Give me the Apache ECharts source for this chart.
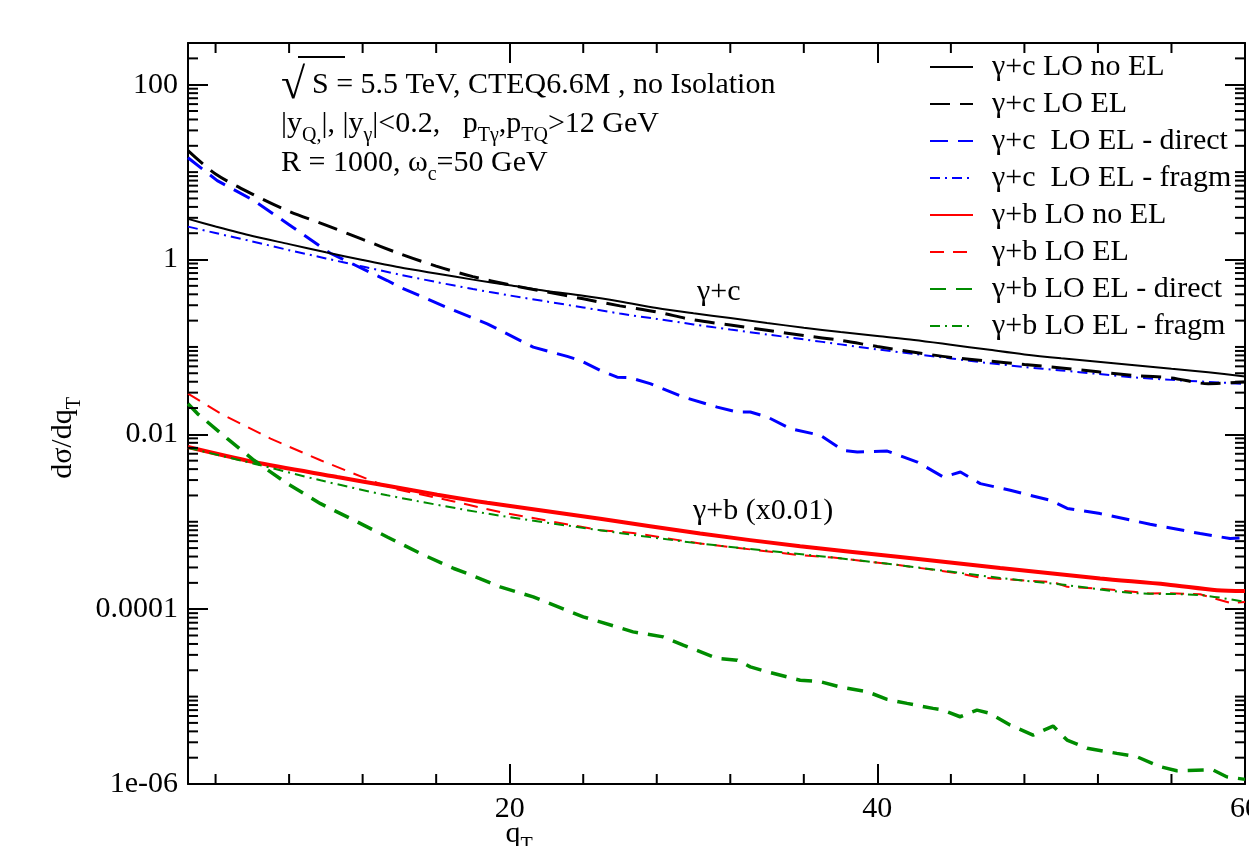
<!DOCTYPE html>
<html><head><meta charset="utf-8">
<script src="https://cdn.jsdelivr.net/npm/echarts@6/dist/echarts.min.js"></script>
<style>html,body{margin:0;padding:0;background:#fff}#c{width:1249px;height:846px}</style>
</head><body><div id="c"></div><script>
// ---------------- data ----------------
const X_MIN = 2.5, X_MAX = 60;
const Y_MIN = 1e-6, Y_MAX = 300;
const xTickValues = [20, 40, 60];
const xTickLabels = ['20', '40', '60'];
const xMinorTicks = [4, 8, 12, 16, 24, 28, 32, 36, 44, 48, 52, 56];
const yTickValues = [1e-6, 1e-4, 1e-2, 1, 100];
const yTickLabels = ['1e-06', '0.0001', '0.01', '1', '100'];
const yMinorMantissas = [2, 3, 4, 5, 6, 7, 8, 9];
const yMinorDecades = [-6, -5, -4, -3, -2, -1, 0, 1, 2];
const yOddDecades = [-5, -3, -1, 1];

const seriesNames = ['γ+c LO no EL', 'γ+c LO EL', 'γ+c  LO EL - direct', 'γ+c  LO EL - fragm',
  'γ+b LO no EL', 'γ+b LO EL', 'γ+b LO EL - direct', 'γ+b LO EL - fragm'];

const cNoEL = [[2.5,2.92],[4,2.39],[6,1.86],[8,1.50],[10,1.21],[12,0.989],[14,0.817],[16,0.692],[18,0.589],[20,0.507],[22,0.437],[24,0.385],[26,0.331],[28,0.279],[30,0.243],[32,0.214],[34,0.188],[36,0.166],[38,0.148],[40,0.133],[42,0.120],[44,0.106],[46,0.0933],[48,0.0822],[50,0.0741],[52,0.0676],[54,0.0617],[56,0.0562],[58,0.0513],[60,0.0460]];
const cEL = [[2.5,17.6],[4,9.5],[6,5.6],[8,3.55],[10,2.48],[12,1.70],[14,1.17],[16,0.841],[18,0.638],[20,0.513],[22,0.427],[24,0.355],[26,0.295],[28,0.251],[30,0.204],[32,0.178],[34,0.155],[36,0.135],[38,0.119],[40,0.101],[42,0.0871],[44,0.0759],[46,0.0692],[48,0.0631],[50,0.0575],[52,0.0519],[54,0.0471],[56,0.0442],[58,0.038],[60,0.0398]];
const cDirect = [[2.5,14.6],[4.09,8.0],[6.09,4.72],[8,2.5],[10.24,1.18],[13.34,0.575],[14.04,0.482],[16.76,0.273],[18.78,0.184],[21.28,0.0995],[23.13,0.0779],[23.84,0.0701],[24.92,0.0539],[25.85,0.0451],[26.56,0.0444],[27.64,0.038],[29.44,0.0267],[31.29,0.0205],[32.38,0.018],[33.09,0.018],[34.02,0.0158],[35.27,0.0116],[36.9,0.00975],[38.15,0.00656],[38.91,0.00628],[40.54,0.00644],[42.18,0.00482],[43.59,0.00325],[44.52,0.00371],[45.6,0.00273],[47.23,0.00229],[49.41,0.00176],[50.33,0.00142],[52.12,0.00124],[54.84,0.000936],[57.56,0.000733],[59.19,0.000643],[60,0.000659]];
const cFragm = [[2.5,2.38],[4,2.01],[6,1.61],[8,1.28],[10,1.03],[12,0.832],[14,0.674],[16,0.553],[18,0.46],[20,0.388],[22,0.331],[24,0.283],[26,0.241],[28,0.209],[30,0.181],[32,0.158],[34,0.139],[36,0.122],[38,0.107],[40,0.0936],[42,0.0832],[44,0.0739],[46,0.0656],[48,0.059],[50,0.0538],[52,0.0491],[54,0.0448],[56,0.042],[58,0.0398],[60,0.0378]];
const bNoEL = [[2.5,0.00716],[6.09,0.00482],[10.62,0.00325],[13.34,0.00258],[16.06,0.00204],[18.78,0.00165],[24.92,0.00108],[30.36,0.000733],[35.8,0.000525],[41.24,0.000396],[46.68,0.000295],[52.12,0.000225],[55.75,0.000192],[58.47,0.000165],[60,0.000161]];
const bEL = [[2.5,0.0292],[4.27,0.0173],[6.99,0.00893],[9.71,0.00505],[12.43,0.00298],[13.7,0.00239],[16.96,0.00171],[19.48,0.00129],[24.92,0.0008],[26.71,0.000745],[30.36,0.000564],[35.8,0.000414],[37.6,0.00039],[41.24,0.000318],[44.5,0.000256],[45.6,0.00023],[48.47,0.00021],[49.56,0.000205],[50.33,0.00018],[52.12,0.000172],[53.91,0.000158],[54.84,0.000151],[55.76,0.000153],[57.56,0.000148],[59.19,0.000118],[60,0.000121]];
const bDirect = [[2.5,0.0224],[3.01,0.0173],[4.64,0.00893],[6.09,0.00505],[7.9,0.00273],[9.71,0.00161],[11.53,0.00104],[13.34,0.00067],[15.15,0.000433],[16.96,0.000292],[17.69,0.000256],[19.48,0.00018],[21.28,0.000138],[24.0,8.17e-5],[24.92,7.16e-5],[26.71,5.5e-5],[28.35,4.82e-5],[29.44,3.88e-5],[31.29,2.74e-5],[32.38,2.61e-5],[33.09,2.19e-5],[34.02,1.92e-5],[35.8,1.54e-5],[36.9,1.48e-5],[37.98,1.29e-5],[39.44,1.14e-5],[40.53,9.29e-6],[41.62,8.36e-6],[43.03,7.33e-6],[43.58,7.01e-6],[44.5,5.88e-6],[45.42,7.01e-6],[46.13,6.43e-6],[47.22,4.72e-6],[48.47,3.63e-6],[49.56,4.6e-6],[50.32,3.18e-6],[51.41,2.56e-6],[53.03,2.24e-6],[54.12,2.05e-6],[55.37,1.58e-6],[56.29,1.42e-6],[58.25,1.45e-6],[59.0,1.21e-6],[60,1.13e-6]];
const bFragm = [[2.5,0.00701],[6.09,0.00462],[9.71,0.00298],[13.34,0.00201],[18.78,0.00124],[24.92,0.0008],[30.36,0.000564],[36.9,0.000404],[41.24,0.000318],[46.68,0.000228],[50.33,0.000188],[53.91,0.000153],[57.56,0.000145],[60,0.000121]];

// ---------------- chart ----------------
const FONT = '"Liberation Serif", "DejaVu Serif", "Times New Roman", serif';
const FS = 30;
const BLUE = '#0000ff', RED = '#ff0000', GREEN = '#008c00';

const tickData = [];
xMinorTicks.forEach(v => tickData.push([v, 1, 0]));
yMinorDecades.forEach(e => yMinorMantissas.forEach(m => {
  const v = m * Math.pow(10, e);
  if (v < Y_MAX) tickData.push([X_MIN, v, 1]);
}));
yOddDecades.forEach(e => tickData.push([X_MIN, Math.pow(10, e), 1]));

function yLabel(v) {
  for (let i = 0; i < yTickValues.length; i++) {
    if (Math.abs(Math.log10(v) - Math.log10(yTickValues[i])) < 1e-6) return yTickLabels[i];
  }
  return '';
}
function xLabel(v) {
  const i = xTickValues.indexOf(v);
  return i >= 0 ? xTickLabels[i] : '';
}

const axisLineStyle = { color: '#000', width: 2 };
function xAxisDef(pos, showLabel) {
  return {
    type: 'value', position: pos, min: X_MIN, max: X_MAX,
    axisLine: { show: true, onZero: false, lineStyle: axisLineStyle },
    axisTick: { show: true, inside: true, length: 20, customValues: xTickValues, lineStyle: { color: '#000', width: 2 } },
    axisLabel: { show: showLabel, customValues: xTickValues, formatter: xLabel, fontFamily: FONT, fontSize: FS, color: '#000', margin: 10 },
    splitLine: { show: false }
  };
}
function yAxisDef(pos, showLabel) {
  return {
    type: 'log', logBase: 10, position: pos, min: Y_MIN, max: Y_MAX, interval: 2,
    axisLine: { show: true, onZero: false, lineStyle: axisLineStyle },
    axisTick: { show: true, inside: true, length: 20, lineStyle: { color: '#000', width: 2 } },
    axisLabel: { show: showLabel, formatter: yLabel, showMaxLabel: false, fontFamily: FONT, fontSize: FS, color: '#000', margin: 10 },
    splitLine: { show: false }, minorTick: { show: false }
  };
}

function lineSeries(name, data, color, width, type, smooth, z) {
  return {
    name, type: 'line', data, symbol: 'none', showSymbol: false, smooth: smooth,
    lineStyle: { color, width, type }, itemStyle: { color }, z: z || 2,
    xAxisIndex: 0, yAxisIndex: 0, clip: true, silent: true
  };
}

const chart = echarts.init(document.getElementById('c'), null, { renderer: 'canvas' });
const LH = 44;
const subStyle = { fontFamily: FONT, fontSize: 20, lineHeight: 4, verticalAlign: 'bottom', fill: '#000', color: '#000' };
const rich = { sub: subStyle };

chart.setOption({
  animation: false,
  backgroundColor: '#fff',
  grid: { left: 188, right: 4, top: 43, bottom: 62, containLabel: false, outerBoundsMode: 'none' },
  xAxis: [xAxisDef('bottom', true), xAxisDef('top', false)],
  yAxis: [yAxisDef('left', true), yAxisDef('right', false)],
  legend: {
    orient: 'vertical', left: 929, top: 52, padding: 0,
    itemWidth: 43, itemHeight: 14, itemGap: 7, selectedMode: false,
    data: seriesNames,
    itemStyle: { color: 'rgba(0,0,0,0)', borderWidth: 0, opacity: 0 },
    textStyle: { fontFamily: FONT, fontSize: FS, color: '#000', lineHeight: 30, padding: [0, 0, 0, 14] }
  },
  series: [
    lineSeries(seriesNames[0], cNoEL, '#000', 2, 'solid', 0.3, 3),
    lineSeries(seriesNames[1], cEL, '#000', 3, [20, 10], 0.3, 3),
    lineSeries(seriesNames[2], cDirect, BLUE, 3, [18, 10], false, 2),
    lineSeries(seriesNames[3], cFragm, BLUE, 2, [10, 5, 2, 5], 0.3, 2),
    lineSeries(seriesNames[4], bNoEL, RED, 4, 'solid', 0.3, 2),
    lineSeries(seriesNames[5], bEL, RED, 2, [14, 9], false, 3),
    lineSeries(seriesNames[6], bDirect, GREEN, 3.5, [16, 10], false, 2),
    lineSeries(seriesNames[7], bFragm, GREEN, 2, [10, 5, 2, 5], 0.3, 3),
    {
      name: 'minorTicks', type: 'custom', data: tickData, silent: true, clip: false, z: 10,
      xAxisIndex: 0, yAxisIndex: 0, encode: { x: 0, y: 1 },
      renderItem: function (params, api) {
        const cs = params.coordSys;
        const st = { stroke: '#000', lineWidth: 2 };
        if (api.value(2) === 0) {
          const px = api.coord([api.value(0), 1])[0];
          const b = cs.y + cs.height;
          return { type: 'group', children: [
            { type: 'line', shape: { x1: px, y1: b, x2: px, y2: b - 10 }, style: st },
            { type: 'line', shape: { x1: px, y1: cs.y, x2: px, y2: cs.y + 10 }, style: st }
          ] };
        }
        const py = api.coord([X_MIN, api.value(1)])[1];
        const r = cs.x + cs.width;
        return { type: 'group', children: [
          { type: 'line', shape: { x1: cs.x, y1: py, x2: cs.x + 10, y2: py }, style: st },
          { type: 'line', shape: { x1: r, y1: py, x2: r - 10, y2: py }, style: st }
        ] };
      }
    }
  ],
  graphic: [
    { type: 'text', x: 281, y: 86, style: { text: '√', fontFamily: FONT, fontSize: 44, fill: '#000', align: 'left', verticalAlign: 'middle' } },
    { type: 'line', shape: { x1: 298, y1: 57, x2: 345, y2: 57 }, style: { stroke: '#000', lineWidth: 2 } },
    { type: 'text', x: 312, y: 85, style: { text: 'S = 5.5 TeV, CTEQ6.6M , no Isolation', fontFamily: FONT, fontSize: FS, fill: '#000', align: 'left', verticalAlign: 'middle' } },
    { type: 'text', x: 281, y: 124, style: { text: '|y{sub|Q,}|, |y{sub|γ}|<0.2,   p{sub|Tγ},p{sub|TQ}>12 GeV', rich, fontFamily: FONT, fontSize: FS, lineHeight: LH, fill: '#000', align: 'left', verticalAlign: 'middle' } },
    { type: 'text', x: 281, y: 163, style: { text: 'R = 1000, ω{sub|c}=50 GeV', rich, fontFamily: FONT, fontSize: FS, lineHeight: LH, fill: '#000', align: 'left', verticalAlign: 'middle' } },
    { type: 'text', x: 697, y: 292, style: { text: 'γ+c', fontFamily: FONT, fontSize: FS, fill: '#000', align: 'left', verticalAlign: 'middle' } },
    { type: 'text', x: 693, y: 511, style: { text: 'γ+b (x0.01)', fontFamily: FONT, fontSize: FS, fill: '#000', align: 'left', verticalAlign: 'middle' } },
    { type: 'text', x: 63, y: 438, rotation: Math.PI / 2, style: { text: 'dσ/dq{sub|T}', rich, fontFamily: FONT, fontSize: FS, lineHeight: LH, fill: '#000', align: 'center', verticalAlign: 'middle' } },
    { type: 'text', x: 519, y: 834, style: { text: 'q{sub|T}', rich, fontFamily: FONT, fontSize: FS, lineHeight: LH, fill: '#000', align: 'center', verticalAlign: 'middle' } }
  ]
});
</script></body></html>
